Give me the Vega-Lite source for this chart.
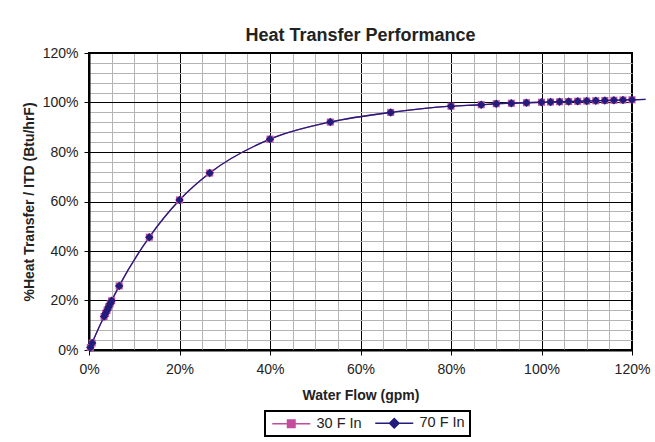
{
  "$schema": "https://vega.github.io/schema/vega-lite/v6.json",
  "width": 543,
  "height": 297,
  "autosize": {"type": "none"},
  "padding": {"left": 89, "top": 53, "right": 23, "bottom": 92},
  "background": "#ffffff",
  "title": {"text": "Heat Transfer Performance", "fontSize": 18, "fontWeight": "bold", "font": "Liberation Sans", "color": "#222222", "anchor": "middle", "offset": 1},
  "data": {"values": [
    {"series": "30 F In", "x": 0.003, "y": 0.01, "marker": 1},
    {"series": "30 F In", "x": 0.007, "y": 0.028, "marker": 1},
    {"series": "30 F In", "x": 0.0333, "y": 0.135, "marker": 1},
    {"series": "30 F In", "x": 0.0367, "y": 0.148, "marker": 1},
    {"series": "30 F In", "x": 0.04, "y": 0.161, "marker": 1},
    {"series": "30 F In", "x": 0.0433, "y": 0.174, "marker": 1},
    {"series": "30 F In", "x": 0.0467, "y": 0.187, "marker": 1},
    {"series": "30 F In", "x": 0.05, "y": 0.199, "marker": 1},
    {"series": "30 F In", "x": 0.0667, "y": 0.259, "marker": 1},
    {"series": "30 F In", "x": 0.1333, "y": 0.456, "marker": 1},
    {"series": "30 F In", "x": 0.2, "y": 0.606, "marker": 1},
    {"series": "30 F In", "x": 0.2667, "y": 0.715, "marker": 1},
    {"series": "30 F In", "x": 0.4, "y": 0.852, "marker": 1},
    {"series": "30 F In", "x": 0.5333, "y": 0.921, "marker": 1},
    {"series": "30 F In", "x": 0.6667, "y": 0.96, "marker": 1},
    {"series": "30 F In", "x": 0.8, "y": 0.985, "marker": 1},
    {"series": "30 F In", "x": 0.8667, "y": 0.991, "marker": 1},
    {"series": "30 F In", "x": 0.9, "y": 0.995, "marker": 1},
    {"series": "30 F In", "x": 0.9333, "y": 0.997, "marker": 1},
    {"series": "30 F In", "x": 0.9667, "y": 0.999, "marker": 1},
    {"series": "30 F In", "x": 1.0, "y": 1.001, "marker": 1},
    {"series": "30 F In", "x": 1.02, "y": 1.002, "marker": 1},
    {"series": "30 F In", "x": 1.04, "y": 1.003, "marker": 1},
    {"series": "30 F In", "x": 1.06, "y": 1.004, "marker": 1},
    {"series": "30 F In", "x": 1.08, "y": 1.005, "marker": 1},
    {"series": "30 F In", "x": 1.1, "y": 1.006, "marker": 1},
    {"series": "30 F In", "x": 1.12, "y": 1.007, "marker": 1},
    {"series": "30 F In", "x": 1.14, "y": 1.008, "marker": 1},
    {"series": "30 F In", "x": 1.16, "y": 1.009, "marker": 1},
    {"series": "30 F In", "x": 1.18, "y": 1.01, "marker": 1},
    {"series": "30 F In", "x": 1.2, "y": 1.011, "marker": 1},
    {"series": "30 F In", "x": 1.23, "y": 1.013, "marker": 0},
    {"series": "70 F In", "x": 0.003, "y": 0.01, "marker": 1},
    {"series": "70 F In", "x": 0.007, "y": 0.028, "marker": 1},
    {"series": "70 F In", "x": 0.0333, "y": 0.135, "marker": 1},
    {"series": "70 F In", "x": 0.0367, "y": 0.148, "marker": 1},
    {"series": "70 F In", "x": 0.04, "y": 0.161, "marker": 1},
    {"series": "70 F In", "x": 0.0433, "y": 0.174, "marker": 1},
    {"series": "70 F In", "x": 0.0467, "y": 0.187, "marker": 1},
    {"series": "70 F In", "x": 0.05, "y": 0.199, "marker": 1},
    {"series": "70 F In", "x": 0.0667, "y": 0.259, "marker": 1},
    {"series": "70 F In", "x": 0.1333, "y": 0.456, "marker": 1},
    {"series": "70 F In", "x": 0.2, "y": 0.606, "marker": 1},
    {"series": "70 F In", "x": 0.2667, "y": 0.715, "marker": 1},
    {"series": "70 F In", "x": 0.4, "y": 0.852, "marker": 1},
    {"series": "70 F In", "x": 0.5333, "y": 0.921, "marker": 1},
    {"series": "70 F In", "x": 0.6667, "y": 0.96, "marker": 1},
    {"series": "70 F In", "x": 0.8, "y": 0.985, "marker": 1},
    {"series": "70 F In", "x": 0.8667, "y": 0.991, "marker": 1},
    {"series": "70 F In", "x": 0.9, "y": 0.995, "marker": 1},
    {"series": "70 F In", "x": 0.9333, "y": 0.997, "marker": 1},
    {"series": "70 F In", "x": 0.9667, "y": 0.999, "marker": 1},
    {"series": "70 F In", "x": 1.0, "y": 1.001, "marker": 1},
    {"series": "70 F In", "x": 1.02, "y": 1.002, "marker": 1},
    {"series": "70 F In", "x": 1.04, "y": 1.003, "marker": 1},
    {"series": "70 F In", "x": 1.06, "y": 1.004, "marker": 1},
    {"series": "70 F In", "x": 1.08, "y": 1.005, "marker": 1},
    {"series": "70 F In", "x": 1.1, "y": 1.006, "marker": 1},
    {"series": "70 F In", "x": 1.12, "y": 1.007, "marker": 1},
    {"series": "70 F In", "x": 1.14, "y": 1.008, "marker": 1},
    {"series": "70 F In", "x": 1.16, "y": 1.009, "marker": 1},
    {"series": "70 F In", "x": 1.18, "y": 1.01, "marker": 1},
    {"series": "70 F In", "x": 1.2, "y": 1.011, "marker": 1},
    {"series": "70 F In", "x": 1.23, "y": 1.013, "marker": 0}
  ]},
  "encoding": {
    "x": {
      "field": "x", "type": "quantitative",
      "scale": {"domain": [0, 1.2], "nice": false, "zero": false},
      "axis": {
        "title": "Water Flow (gpm)",
        "values": [0, 0.05, 0.1, 0.15, 0.2, 0.25, 0.3, 0.35, 0.4, 0.45, 0.5, 0.55, 0.6, 0.65, 0.7, 0.75, 0.8, 0.85, 0.9, 0.95, 1.0, 1.05, 1.1, 1.15, 1.2],
        "format": ".0%",
        "labelExpr": "abs(datum.value*5 - round(datum.value*5)) < 0.001 ? datum.label : ''",
        "labelOverlap": false,
        "labelFlush": false,
        "labelPadding": 7,
        "titlePadding": 12,
        "gridColor": {"condition": {"test": "abs(datum.value*5 - round(datum.value*5)) < 0.001", "value": "#000000"}, "value": "#b4b4b4"},
        "tickColor": {"condition": {"test": "abs(datum.value*5 - round(datum.value*5)) < 0.001", "value": "#000000"}, "value": "rgba(0,0,0,0)"}
      }
    },
    "y": {
      "field": "y", "type": "quantitative",
      "scale": {"domain": [0, 1.2], "nice": false, "zero": false},
      "axis": {
        "title": "%Heat Transfer / ITD (Btu/hrF)",
        "values": [0, 0.04, 0.08, 0.12, 0.16, 0.2, 0.24, 0.28, 0.32, 0.36, 0.4, 0.44, 0.48, 0.52, 0.56, 0.6, 0.64, 0.68, 0.72, 0.76, 0.8, 0.84, 0.88, 0.92, 0.96, 1.0, 1.04, 1.08, 1.12, 1.16, 1.2],
        "format": ".0%",
        "labelExpr": "abs(datum.value*5 - round(datum.value*5)) < 0.001 ? datum.label : ''",
        "labelOverlap": false,
        "labelFlush": false,
        "labelPadding": 6,
        "titlePadding": 6,
        "gridColor": {"condition": {"test": "abs(datum.value*5 - round(datum.value*5)) < 0.001", "value": "#000000"}, "value": "#b4b4b4"},
        "tickColor": {"condition": {"test": "abs(datum.value*5 - round(datum.value*5)) < 0.001", "value": "#000000"}, "value": "rgba(0,0,0,0)"}
      }
    }
  },
  "layer": [
    {
      "mark": {"type": "line", "interpolate": "monotone", "strokeWidth": 1.3, "clip": false},
      "encoding": {
        "stroke": {
          "field": "series", "type": "nominal",
          "scale": {"domain": ["30 F In", "70 F In"], "range": ["#c24c9e", "#221c7c"]},
          "legend": {"title": null, "orient": "none", "legendX": 176, "legendY": 358, "direction": "horizontal", "symbolSize": 100, "symbolStrokeWidth": 1.5, "labelFontSize": 14.5, "labelFont": "Liberation Sans", "labelColor": "#222222", "labelOffset": 32, "padding": 5, "columnPadding": 10, "strokeColor": "#000000", "symbolOpacity": 1,
            "encode": {"legend": {"update": {"strokeWidth": {"value": 2}}}, "symbols": {"update": {"strokeWidth": {"value": 1.5}, "opacity": {"value": 1}}}}}
        }
      }
    },
    {
      "transform": [{"filter": "datum.marker == 1 && datum.series == '30 F In'"}],
      "mark": {"type": "point", "shape": "square", "filled": true, "strokeWidth": 0, "opacity": 1, "size": 50},
      "encoding": {
        "fill": {
          "field": "series", "type": "nominal",
          "scale": {"domain": ["30 F In", "70 F In"], "range": ["#c24c9e", "#221c7c"]},
          "legend": {"title": null, "orient": "none", "legendX": 176, "legendY": 358, "direction": "horizontal", "symbolSize": 100, "symbolStrokeWidth": 1.5, "labelFontSize": 14.5, "labelFont": "Liberation Sans", "labelColor": "#222222", "labelOffset": 32, "padding": 5, "columnPadding": 10, "strokeColor": "#000000", "symbolOpacity": 1,
            "encode": {"legend": {"update": {"strokeWidth": {"value": 2}}}, "symbols": {"update": {"strokeWidth": {"value": 1.5}, "opacity": {"value": 1}}}}}
        }
      }
    },
    {
      "transform": [{"filter": "datum.marker == 1 && datum.series == '70 F In'"}],
      "mark": {"type": "point", "shape": "diamond", "filled": true, "strokeWidth": 0, "opacity": 1, "size": 72},
      "encoding": {
        "fill": {
          "field": "series", "type": "nominal",
          "scale": {"domain": ["30 F In", "70 F In"], "range": ["#c24c9e", "#221c7c"]},
          "legend": {"title": null, "orient": "none", "legendX": 176, "legendY": 358, "direction": "horizontal", "symbolSize": 100, "symbolStrokeWidth": 1.5, "labelFontSize": 14.5, "labelFont": "Liberation Sans", "labelColor": "#222222", "labelOffset": 32, "padding": 5, "columnPadding": 10, "strokeColor": "#000000", "symbolOpacity": 1,
            "encode": {"legend": {"update": {"strokeWidth": {"value": 2}}}, "symbols": {"update": {"strokeWidth": {"value": 1.5}, "opacity": {"value": 1}}}}}
        }
      }
    },
    {
      "transform": [{"filter": "false"}],
      "mark": {"type": "point", "filled": true, "strokeWidth": 1.5, "opacity": 1, "size": 100},
      "encoding": {
        "fill": {
          "field": "series", "type": "nominal",
          "scale": {"domain": ["30 F In", "70 F In"], "range": ["#c24c9e", "#221c7c"]},
          "legend": {"title": null, "orient": "none", "legendX": 176, "legendY": 358, "direction": "horizontal", "symbolSize": 100, "symbolStrokeWidth": 1.5, "labelFontSize": 14.5, "labelFont": "Liberation Sans", "labelColor": "#222222", "labelOffset": 32, "padding": 5, "columnPadding": 10, "strokeColor": "#000000", "symbolOpacity": 1,
            "encode": {"legend": {"update": {"strokeWidth": {"value": 2}}}, "symbols": {"update": {"strokeWidth": {"value": 1.5}, "opacity": {"value": 1}}}}}
        },
        "stroke": {
          "field": "series", "type": "nominal",
          "scale": {"domain": ["30 F In", "70 F In"], "range": ["#c24c9e", "#221c7c"]},
          "legend": {"title": null, "orient": "none", "legendX": 176, "legendY": 358, "direction": "horizontal", "symbolSize": 100, "symbolStrokeWidth": 1.5, "labelFontSize": 14.5, "labelFont": "Liberation Sans", "labelColor": "#222222", "labelOffset": 32, "padding": 5, "columnPadding": 10, "strokeColor": "#000000", "symbolOpacity": 1,
            "encode": {"legend": {"update": {"strokeWidth": {"value": 2}}}, "symbols": {"update": {"strokeWidth": {"value": 1.5}, "opacity": {"value": 1}}}}}
        },
        "shape": {
          "field": "series", "type": "nominal",
          "scale": {"domain": ["30 F In", "70 F In"], "range": ["M-1,0H6.6M2.05,-0.75H3.55V0.75H2.05Z", "M-1,0H6.6M2.8,-0.95L3.75,0L2.8,0.95L1.85,0Z"]},
          "legend": {"title": null, "orient": "none", "legendX": 176, "legendY": 358, "direction": "horizontal", "symbolSize": 100, "symbolStrokeWidth": 1.5, "labelFontSize": 14.5, "labelFont": "Liberation Sans", "labelColor": "#222222", "labelOffset": 32, "padding": 5, "columnPadding": 10, "strokeColor": "#000000", "symbolOpacity": 1,
            "encode": {"legend": {"update": {"strokeWidth": {"value": 2}}}, "symbols": {"update": {"strokeWidth": {"value": 1.5}, "opacity": {"value": 1}}}}}
        }
      }
    }
  ],
  "config": {
    "font": "Liberation Sans",
    "view": {"stroke": "#000000", "strokeWidth": 2},
    "axis": {
      "domainColor": "#000000", "domainWidth": 2,
      "tickSize": 5, "tickWidth": 1,
      "grid": true, "gridWidth": 1, "gridOpacity": 1,
      "labelFont": "Liberation Sans", "labelFontSize": 14, "labelColor": "#222222",
      "titleFont": "Liberation Sans", "titleFontSize": 14, "titleFontWeight": "bold", "titleColor": "#222222"
    }
  }
}
